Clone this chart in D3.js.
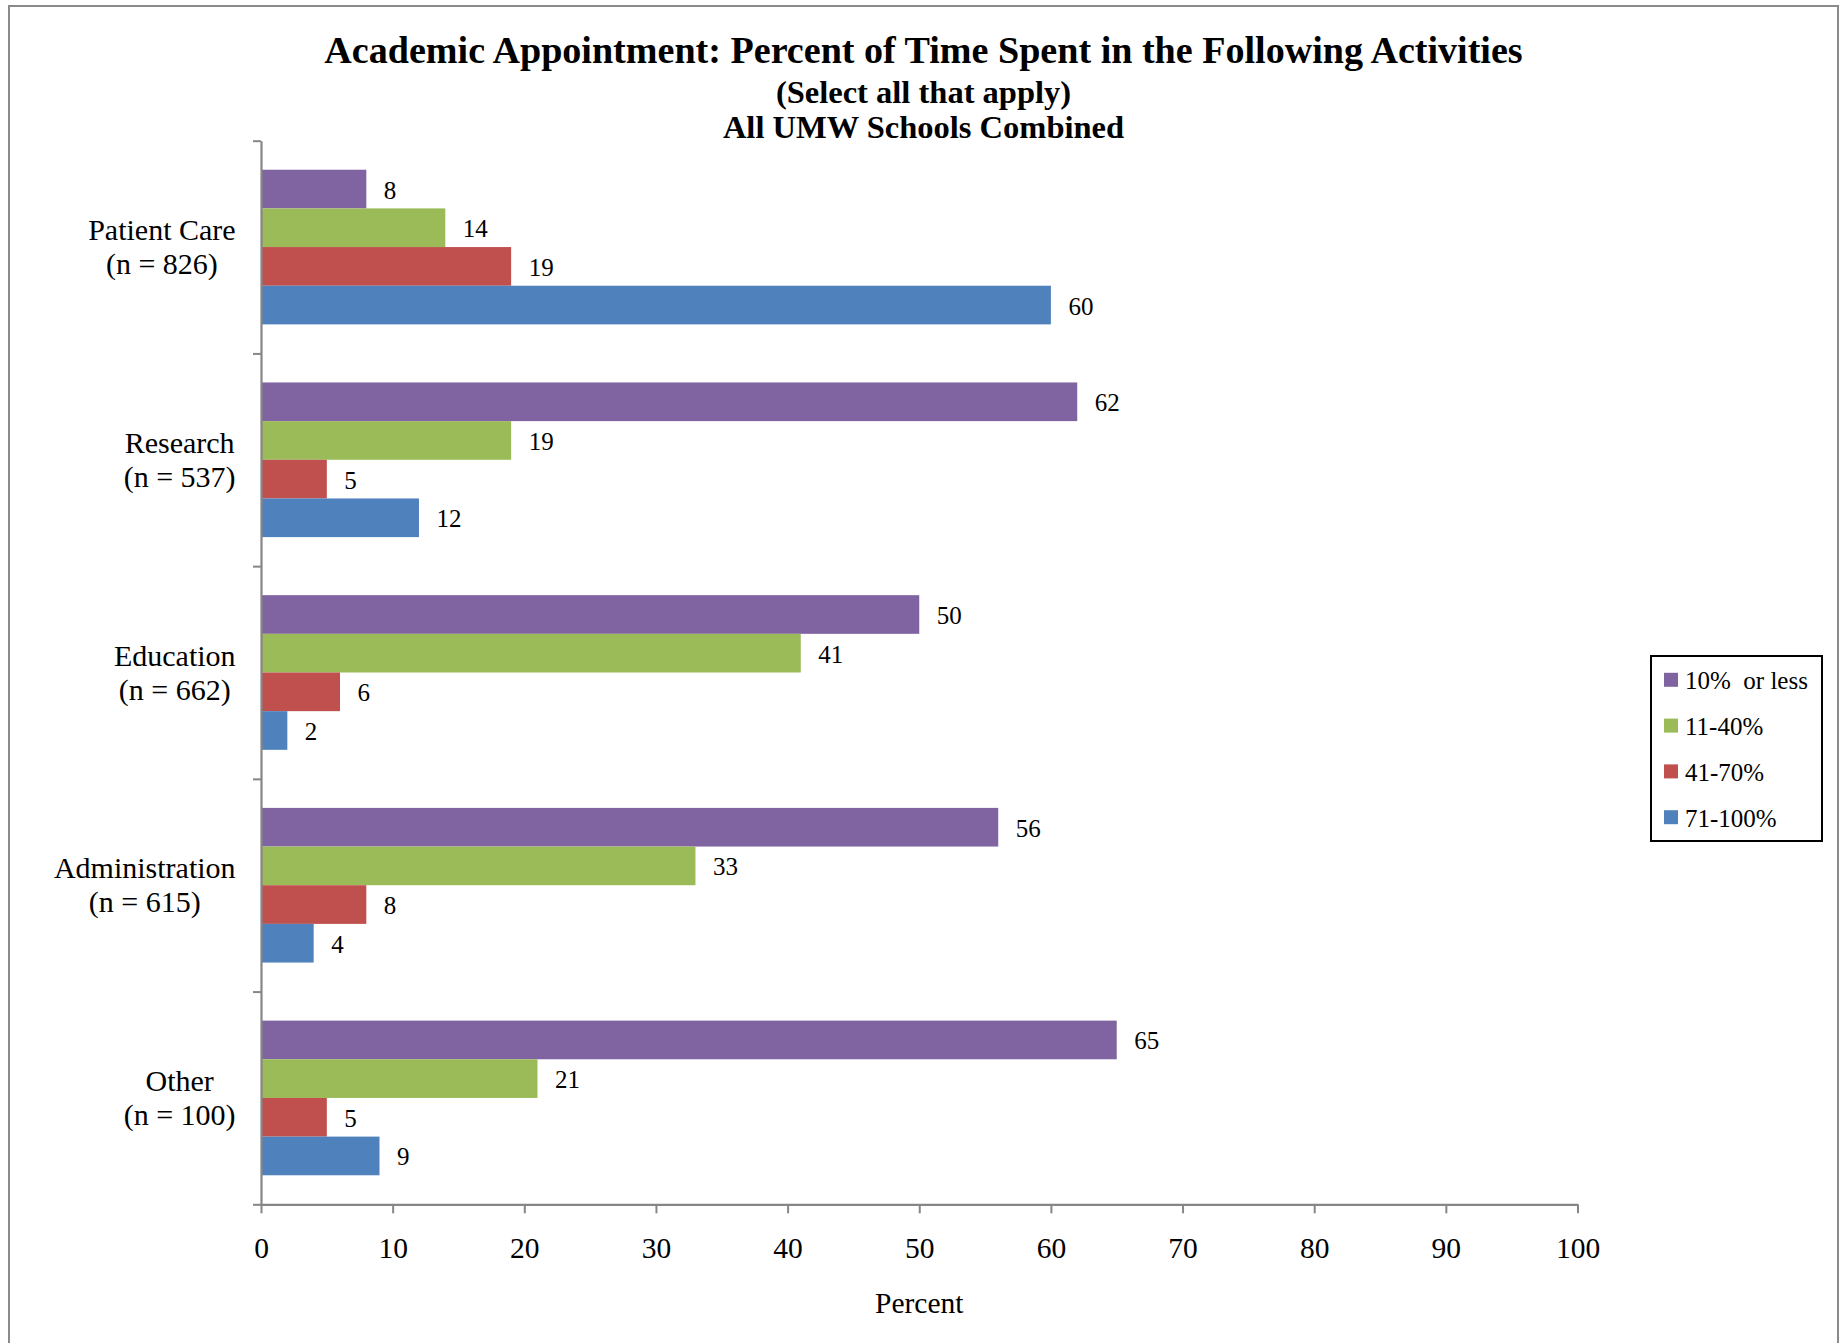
<!DOCTYPE html>
<html>
<head>
<meta charset="utf-8">
<script src="https://cdn.jsdelivr.net/npm/d3@7"></script>
<style>
  html, body { margin: 0; padding: 0; background: #fff; }
  svg { display: block; }
  text { font-family: "Liberation Serif", "Times New Roman", serif; fill: #000; }
</style>
</head>
<body>
<svg id="chart" width="1847" height="1343"></svg>
<script>
// ---- data ----
const categories = ["Patient Care", "Research", "Education", "Administration", "Other"];
const categoryN = ["(n = 826)", "(n = 537)", "(n = 662)", "(n = 615)", "(n = 100)"];
const seriesNames = ["10% or less", "11-40%", "41-70%", "71-100%"];
const seriesColors = ["#8064A2", "#9BBB59", "#C0504D", "#4F81BD"];
const values10OrLess = [8, 62, 50, 56, 65];
const values11to40 = [14, 19, 41, 33, 21];
const values41to70 = [19, 5, 6, 8, 5];
const values71to100 = [60, 12, 2, 4, 9];
const xTicks = [0, 10, 20, 30, 40, 50, 60, 70, 80, 90, 100];
const titleLines = ["Academic Appointment: Percent of Time Spent in the Following Activities", "(Select all that apply)", "All UMW Schools Combined"];
const xAxisTitle = "Percent";

const seriesValues = [values10OrLess, values11to40, values41to70, values71to100];

const svg = d3.select("#chart");

// outer frame
svg.append("rect")
  .attr("x", 9).attr("y", 6).attr("width", 1829).attr("height", 1345)
  .attr("fill", "none").attr("stroke", "#8a8a8a").attr("stroke-width", 2);

// layout
const plotLeft = 261, plotRight = 1577.5, plotTop = 140.7, plotBottom = 1204.3;

const x = d3.scaleLinear().domain([0, 100]).range([plotLeft, plotRight]);
const pad = 0.273;
const y0 = d3.scaleBand().domain(categories).range([plotTop, plotBottom])
  .paddingInner(pad).paddingOuter(pad / 2);
const y1 = d3.scaleBand().domain(seriesNames).range([0, y0.bandwidth()]).padding(0);
const color = d3.scaleOrdinal().domain(seriesNames).range(seriesColors);

// title
const titleG = svg.append("g");
const titleSpecs = [
  { size: 38.1, y: 63.3 },
  { size: 32.5, y: 102.7 },
  { size: 32.5, y: 137.5 }
];
titleLines.forEach((t, i) => {
  titleG.append("text")
    .attr("x", 923.5).attr("y", titleSpecs[i].y)
    .attr("text-anchor", "middle")
    .attr("font-weight", "bold")
    .attr("font-size", titleSpecs[i].size)
    .text(t);
});

// bars
const rows = [];
categories.forEach((c, ci) => {
  seriesNames.forEach((s, si) => {
    rows.push({ cat: c, series: s, value: seriesValues[si][ci] });
  });
});

const barG = svg.append("g");
barG.selectAll("rect").data(rows).join("rect")
  .attr("x", x(0))
  .attr("y", d => y0(d.cat) + y1(d.series))
  .attr("width", d => x(d.value) - x(0))
  .attr("height", y1.bandwidth())
  .attr("fill", d => color(d.series));

// value labels
barG.selectAll("text").data(rows).join("text")
  .attr("x", d => x(d.value) + 17.5)
  .attr("y", d => y0(d.cat) + y1(d.series) + y1.bandwidth() / 2 + 9.5)
  .attr("font-size", 25)
  .text(d => d.value);

// x axis
const xAxis = d3.axisBottom(x).tickValues(xTicks).tickSize(9).tickSizeOuter(0).tickPadding(0);
const xg = svg.append("g").attr("transform", `translate(0,${plotBottom})`).call(xAxis);
xg.select(".domain").attr("stroke", "#868686").attr("stroke-width", 2.2);
xg.selectAll(".tick line").attr("stroke", "#868686").attr("stroke-width", 2);
xg.selectAll(".tick text")
  .attr("font-family", '"Liberation Serif", "Times New Roman", serif')
  .attr("font-size", 29.5)
  .attr("fill", "#000")
  .attr("dy", null)
  .attr("y", 54);

// y axis (category boundary ticks)
const yb = d3.scaleLinear().domain([0, categories.length]).range([plotTop, plotBottom]);
const yAxis = d3.axisLeft(yb).tickValues(d3.range(0, categories.length + 1)).tickSize(8).tickSizeOuter(0).tickFormat("");
const yg = svg.append("g").attr("transform", `translate(${plotLeft},0)`).call(yAxis);
yg.select(".domain").attr("stroke", "#868686").attr("stroke-width", 2.2);
yg.selectAll(".tick line").attr("stroke", "#868686").attr("stroke-width", 2);

// category labels
const catG = svg.append("g");
categories.forEach((c, i) => {
  const cy = y0(c) + y0.bandwidth() / 2;
  const g = catG.append("g");
  const t1 = g.append("text").attr("font-size", 30).attr("text-anchor", "middle").attr("y", cy - 6.8).text(c);
  const t2 = g.append("text").attr("font-size", 30).attr("text-anchor", "middle").attr("y", cy + 27.2).text(categoryN[i]);
  const w = Math.max(t1.node().getComputedTextLength(), t2.node().getComputedTextLength());
  const cx = 235.6 - w / 2;
  t1.attr("x", cx); t2.attr("x", cx);
});

// x axis title
svg.append("text")
  .attr("x", (plotLeft + plotRight) / 2).attr("y", 1313)
  .attr("text-anchor", "middle").attr("font-size", 29.5)
  .text(xAxisTitle);

// legend
const lg = svg.append("g");
lg.append("rect").attr("x", 1651).attr("y", 656).attr("width", 171).attr("height", 185)
  .attr("fill", "#fff").attr("stroke", "#000").attr("stroke-width", 2);
const legendBase = d3.scalePoint().domain(seriesNames).range([689.3, 826.7]);
seriesNames.forEach(s => {
  const by = legendBase(s);
  lg.append("rect").attr("x", 1664).attr("y", by - 16.5).attr("width", 14).attr("height", 14).attr("fill", color(s));
  lg.append("text").attr("x", 1685).attr("y", by).attr("font-size", 25)
    .style("white-space", "pre")
    .text(s === "10% or less" ? "10%\u00A0 or less" : s);
});
</script>
</body>
</html>
